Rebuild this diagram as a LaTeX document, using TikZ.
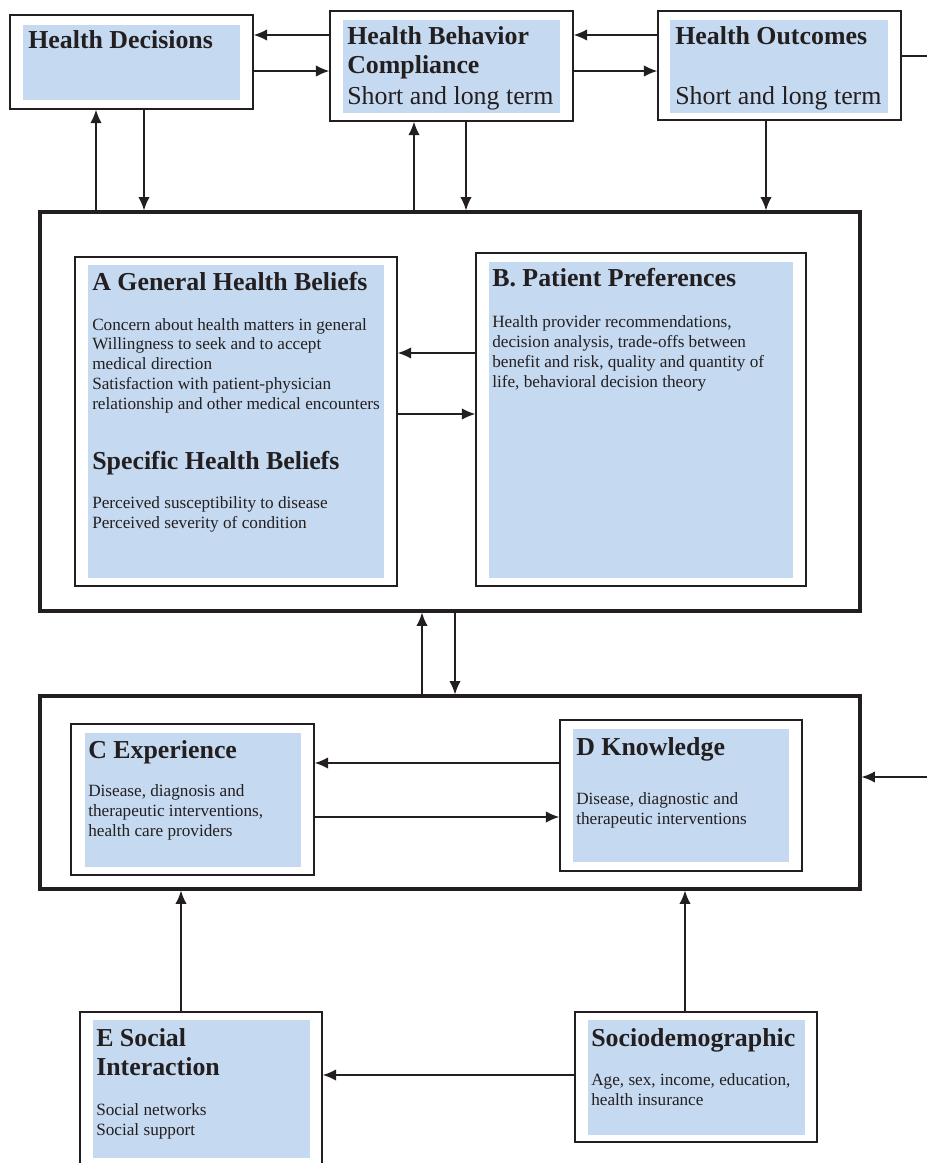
\documentclass[tikz,border=0pt]{standalone}
\usepackage{fontspec}
\setmainfont{Liberation Serif}
\usetikzlibrary{arrows.meta,fit}
\definecolor{boxblue}{RGB}{197,217,240}
\definecolor{ink}{RGB}{35,31,32}
\tikzset{
  frame/.style={draw=ink, line width=1.1pt, inner sep=0pt},
  bigframe/.style={draw=ink, line width=2.4pt, inner sep=0pt},
  head/.style={anchor=base west, inner sep=0pt, align=left, text=ink,
    font=\fontsize{19.4}{21.75}\selectfont\bfseries},
  sub/.style={anchor=base west, inner sep=0pt, text=ink,
    font=\fontsize{19.4}{21.75}\selectfont},
  body/.style={anchor=base west, inner sep=0pt, align=left, text=ink,
    font=\fontsize{12.9}{14.8}\selectfont},
  conn/.style={draw=ink, line width=1pt, ->},
}
\begin{document}
\begin{tikzpicture}[x=0.75pt,y=-0.75pt,>={Latex[length=10pt,width=8.5pt]}]
\clip (0,0) rectangle (927,1163);
% frames
\node[frame, fit={(10,15) (253,109)}] (hd) {};
\node[frame, fit={(330,11) (573,121)}] (hbc) {};
\node[frame, fit={(658,11) (901,120)}] (ho) {};
\node[bigframe, fit={(40,212) (860,611)}] (bigA) {};
\node[frame, fit={(75,257) (397,586)}] (ghb) {};
\node[frame, fit={(476,253) (806,586)}] (pp) {};
\node[bigframe, fit={(40,696) (860,889)}] (bigB) {};
\node[frame, fit={(71,724) (314,875)}] (ex) {};
\node[frame, fit={(560,720) (802,871)}] (kn) {};
\node[frame, fit={(80,1012) (322,1175)}] (si) {};
\node[frame, fit={(575,1012) (817,1142)}] (sd) {};
% blue fills
\foreach \a/\b/\c/\d in {23/25/240/100, 343/20/560/113, 670/20/888/113,
  88/265/384/578, 489/262/793/578, 85/733/301/867, 573/729/789/862,
  93/1020/310/1158, 588/1020/805/1135}
  \fill[boxblue] (\a,\b) rectangle (\c,\d);
% texts (base = last line)
\node[head] (thd) at (28,49) {Health Decisions};
\node[head] (thbc) at (347,74) {Health Behavior\\Compliance};
\node[sub] (shbc) at (347,104) {Short and long term};
\node[head] (tho) at (675,45) {Health Outcomes};
\node[sub] (sho) at (675,104) {Short and long term};
\node[head] (tghb) at (92,290) {A General Health Beliefs};
\node[body] (bghb) at (92,409) {Concern about health matters in general\\
  Willingness to seek and to accept\\medical direction\\
  Satisfaction with patient-physician\\relationship and other medical encounters};
\node[head] (tshb) at (92,469) {Specific Health Beliefs};
\node[body] (bshb) at (92,528) {Perceived susceptibility to disease\\
  Perceived severity of condition};
\node[head] (tpp) at (492,286) {B. Patient Preferences};
\node[body] (bpp) at (492,387) {Health provider recommendations,\\
  decision analysis, trade-offs between\\benefit and risk, quality and quantity of\\
  life, behavioral decision theory};
\node[head] (tex) at (88,758) {C Experience};
\node[body] (bex) at (88,836) {Disease, diagnosis and\\therapeutic interventions,\\
  health care providers};
\node[head] (tkn) at (576,755) {D Knowledge};
\node[body] (bkn) at (576,824) {Disease, diagnostic and\\therapeutic interventions};
\node[head] (tsi) at (96,1075) {E Social\\Interaction};
\node[body] (bsi) at (96,1135) {Social networks\\Social support};
\node[head] (tsd) at (591,1046) {Sociodemographic};
\node[body] (bsd) at (591,1105) {Age, sex, income, education,\\health insurance};
% connectors
\coordinate (offr) at (927,56);
\coordinate (inr) at (927,777);
\draw[conn] (hbc.west |- 0,35) -- (hd.east |- 0,35);
\draw[conn] (hd.east |- 0,71) -- (hbc.west |- 0,71);
\draw[conn] (ho.west |- 0,35) -- (hbc.east |- 0,35);
\draw[conn] (hbc.east |- 0,71) -- (ho.west |- 0,71);
\draw[draw=ink, line width=1pt] (ho.east |- offr) -- (offr);
\draw[conn] (bigA.north -| 96,0) -- (hd.south -| 96,0);
\draw[conn] (hd.south -| 144,0) -- (bigA.north -| 144,0);
\draw[conn] (bigA.north -| 414,0) -- (hbc.south -| 414,0);
\draw[conn] (hbc.south -| 466,0) -- (bigA.north -| 466,0);
\draw[conn] (ho.south -| 766,0) -- (bigA.north -| 766,0);
\draw[conn] (pp.west |- 0,353) -- (ghb.east |- 0,353);
\draw[conn] (ghb.east |- 0,414) -- (pp.west |- 0,414);
\draw[conn] (bigB.north -| 422,0) -- (bigA.south -| 422,0);
\draw[conn] (bigA.south -| 455,0) -- (bigB.north -| 455,0);
\draw[conn] (kn.west |- 0,763) -- (ex.east |- 0,763);
\draw[conn] (ex.east |- 0,817) -- (kn.west |- 0,817);
\draw[conn] (inr) -- (bigB.east |- inr);
\draw[conn] (si.north -| 181,0) -- (bigB.south -| 181,0);
\draw[conn] (sd.north -| 685,0) -- (bigB.south -| 685,0);
\draw[conn] (sd.west |- 0,1075) -- (si.east |- 0,1075);
\end{tikzpicture}
\end{document}
